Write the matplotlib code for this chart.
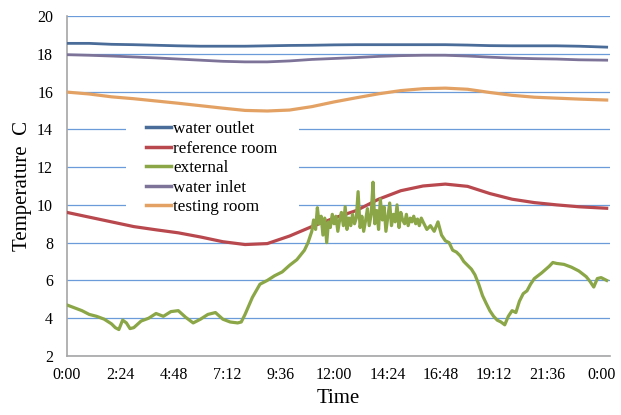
import matplotlib
matplotlib.use("Agg")
import matplotlib.pyplot as plt
from matplotlib.patches import Rectangle

# hourly readings (last one just past midnight)
hours = list(range(24)) + [24.25]

water_outlet = [18.55, 18.55, 18.50, 18.48, 18.45, 18.42, 18.40, 18.40, 18.40, 18.42,
                18.44, 18.45, 18.47, 18.48, 18.48, 18.48, 18.48, 18.48, 18.46, 18.43,
                18.42, 18.42, 18.42, 18.40, 18.35]
reference_room = [9.60, 9.35, 9.10, 8.85, 8.68, 8.52, 8.30, 8.05, 7.90, 7.95,
                  8.35, 8.85, 9.30, 9.70, 10.30, 10.75, 11.00, 11.10, 10.98, 10.60,
                  10.30, 10.12, 10.00, 9.90, 9.82]
water_inlet = [17.95, 17.92, 17.88, 17.83, 17.78, 17.72, 17.66, 17.60, 17.57, 17.57,
               17.62, 17.70, 17.75, 17.80, 17.86, 17.90, 17.92, 17.92, 17.88, 17.82,
               17.77, 17.74, 17.72, 17.68, 17.66]
testing_room = [15.97, 15.87, 15.72, 15.62, 15.50, 15.38, 15.25, 15.12, 15.00, 14.97,
                15.02, 15.20, 15.45, 15.67, 15.88, 16.05, 16.15, 16.18, 16.12, 15.95,
                15.80, 15.70, 15.65, 15.60, 15.55]

# outdoor sensor is much noisier, logged more densely around midday
ext_hours = [0.0, 0.33, 0.67, 1.0, 1.33, 1.67, 2.0, 2.17, 2.33, 2.5, 2.67, 2.83,
             3.0, 3.33, 3.67, 4.0, 4.33, 4.67, 5.0, 5.33, 5.67, 6.0, 6.33, 6.67,
             7.0, 7.33, 7.67, 7.83, 8.0, 8.33, 8.67, 9.0, 9.33, 9.67, 10.0, 10.33,
             10.67, 10.83, 11.0,
             11.08, 11.17, 11.25, 11.33, 11.42, 11.5, 11.58, 11.67, 11.75, 11.83, 11.92,
             12.0, 12.08, 12.17, 12.25, 12.33, 12.42, 12.5, 12.58, 12.67, 12.75, 12.83, 12.92,
             13.0, 13.08, 13.17, 13.25, 13.33, 13.42, 13.5, 13.58, 13.67, 13.75, 13.83, 13.92,
             14.0, 14.08, 14.17, 14.25, 14.33, 14.42, 14.5, 14.58, 14.67, 14.75, 14.83, 14.92,
             15.0, 15.08, 15.17, 15.25, 15.33, 15.42, 15.5, 15.58, 15.67, 15.75, 15.83, 15.92,
             16.0, 16.17, 16.33, 16.5, 16.67, 16.83, 17.0, 17.17, 17.33, 17.5, 17.67, 17.83,
             18.0, 18.17, 18.33, 18.5, 18.67, 18.83, 19.0, 19.17, 19.33, 19.5, 19.67, 19.83,
             20.0, 20.17, 20.33, 20.5, 20.67, 20.83, 21.0, 21.33, 21.67, 21.83, 22.0, 22.33,
             22.67, 23.0, 23.33, 23.5, 23.67, 23.83, 24.0, 24.25]
external = [4.70, 4.55, 4.40, 4.20, 4.10, 3.95, 3.70, 3.50, 3.40, 3.90, 3.75, 3.45,
            3.50, 3.85, 4.00, 4.25, 4.10, 4.35, 4.40, 4.05, 3.75, 3.95, 4.20, 4.30,
            3.95, 3.80, 3.75, 3.80, 4.20, 5.10, 5.80, 6.00, 6.25, 6.45, 6.80, 7.10,
            7.60, 8.00, 8.60,
            9.20, 8.70, 9.85, 9.00, 9.40, 8.40, 9.30, 8.00, 9.10, 8.80, 9.50,
            9.00, 9.40, 8.60, 9.20, 9.60, 8.90, 9.90, 8.70, 9.30, 8.90, 9.50, 9.00,
            9.30, 10.70, 8.80, 9.40, 8.60, 9.20, 9.80, 8.90, 9.50, 11.20, 9.00, 9.70,
            8.70, 10.30, 9.20, 9.90, 8.60, 9.40, 10.10, 8.90, 9.50, 9.10, 10.00, 8.80,
            9.60, 9.20, 9.00, 9.50, 8.90, 9.30, 9.10, 9.40, 9.00, 9.25, 8.90, 9.30,
            9.10, 8.70, 8.90, 8.60, 9.10, 8.40, 8.10, 8.00, 7.60, 7.50, 7.30, 7.00,
            6.80, 6.60, 6.30, 5.80, 5.20, 4.80, 4.40, 4.10, 3.90, 3.80, 3.65, 4.10,
            4.40, 4.30, 4.90, 5.30, 5.45, 5.80, 6.10, 6.40, 6.75, 6.95, 6.90, 6.85,
            6.70, 6.50, 6.20, 5.95, 5.65, 6.10, 6.15, 6.00]

tick_hours = [0, 2.4, 4.8, 7.2, 9.6, 12, 14.4, 16.8, 19.2, 21.6, 24]
tick_labels = ["0:00", "2:24", "4:48", "7:12", "9:36", "12:00", "14:24",
               "16:48", "19:12", "21:36", "0:00"]
y_ticks = [2, 4, 6, 8, 10, 12, 14, 16, 18, 20]

plt.rcParams['font.family'] = ['Liberation Serif', 'DejaVu Serif']

fig = plt.figure(figsize=(6.21, 4.15), dpi=100)
ax = fig.add_axes([0.1079, 0.1422, 0.8744, 0.8193])

ax.plot(hours, water_outlet, color="#4a6c98", lw=2.0, label="water outlet", zorder=3)
ax.plot(hours, reference_room, color="#b8484e", lw=2.3, label="reference room", zorder=3)
ax.plot(ext_hours, external, color="#8aa646", lw=2.3, label="external", zorder=4)
ax.plot(hours, water_inlet, color="#7d7399", lw=2.0, label="water inlet", zorder=3)
ax.plot(hours, testing_room, color="#e3a264", lw=2.3, label="testing room", zorder=3)

ax.set_xlim(0, 24.4)
ax.set_ylim(2, 20)
ax.set_xticks(tick_hours)
ax.set_xticklabels(tick_labels)
ax.set_yticks(y_ticks)
ax.tick_params(length=0, labelsize=11.5, pad=8)
ax.tick_params(axis="y", pad=10)

ax.grid(axis="y", color="#6b9bd8", lw=0.9)
ax.set_axisbelow(True)
for side in ("top", "right"):
    ax.spines[side].set_visible(False)
for side in ("left", "bottom"):
    ax.spines[side].set_color("#a6a6a6")
    ax.spines[side].set_linewidth(1.2)

ax.set_xlabel("Time", fontsize=15, labelpad=4)
ax.set_ylabel("Temperature  C", fontsize=15, labelpad=4)

# white legend area hides the gridlines behind it
ax.add_patch(Rectangle((0.1087, 0.415), 0.318, 0.294, transform=ax.transAxes,
                       facecolor="white", edgecolor="none", zorder=2))

leg = ax.legend(loc="upper left", bbox_to_anchor=(0.145, 0.69), fontsize=12.3,
                frameon=False, handlelength=1.5, handletextpad=0.1,
                labelspacing=0.2, borderpad=0, borderaxespad=0)
for line in leg.get_lines():
    line.set_linewidth(2.5)
leg.set_zorder(5)

fig.savefig("out.png", dpi=100)
